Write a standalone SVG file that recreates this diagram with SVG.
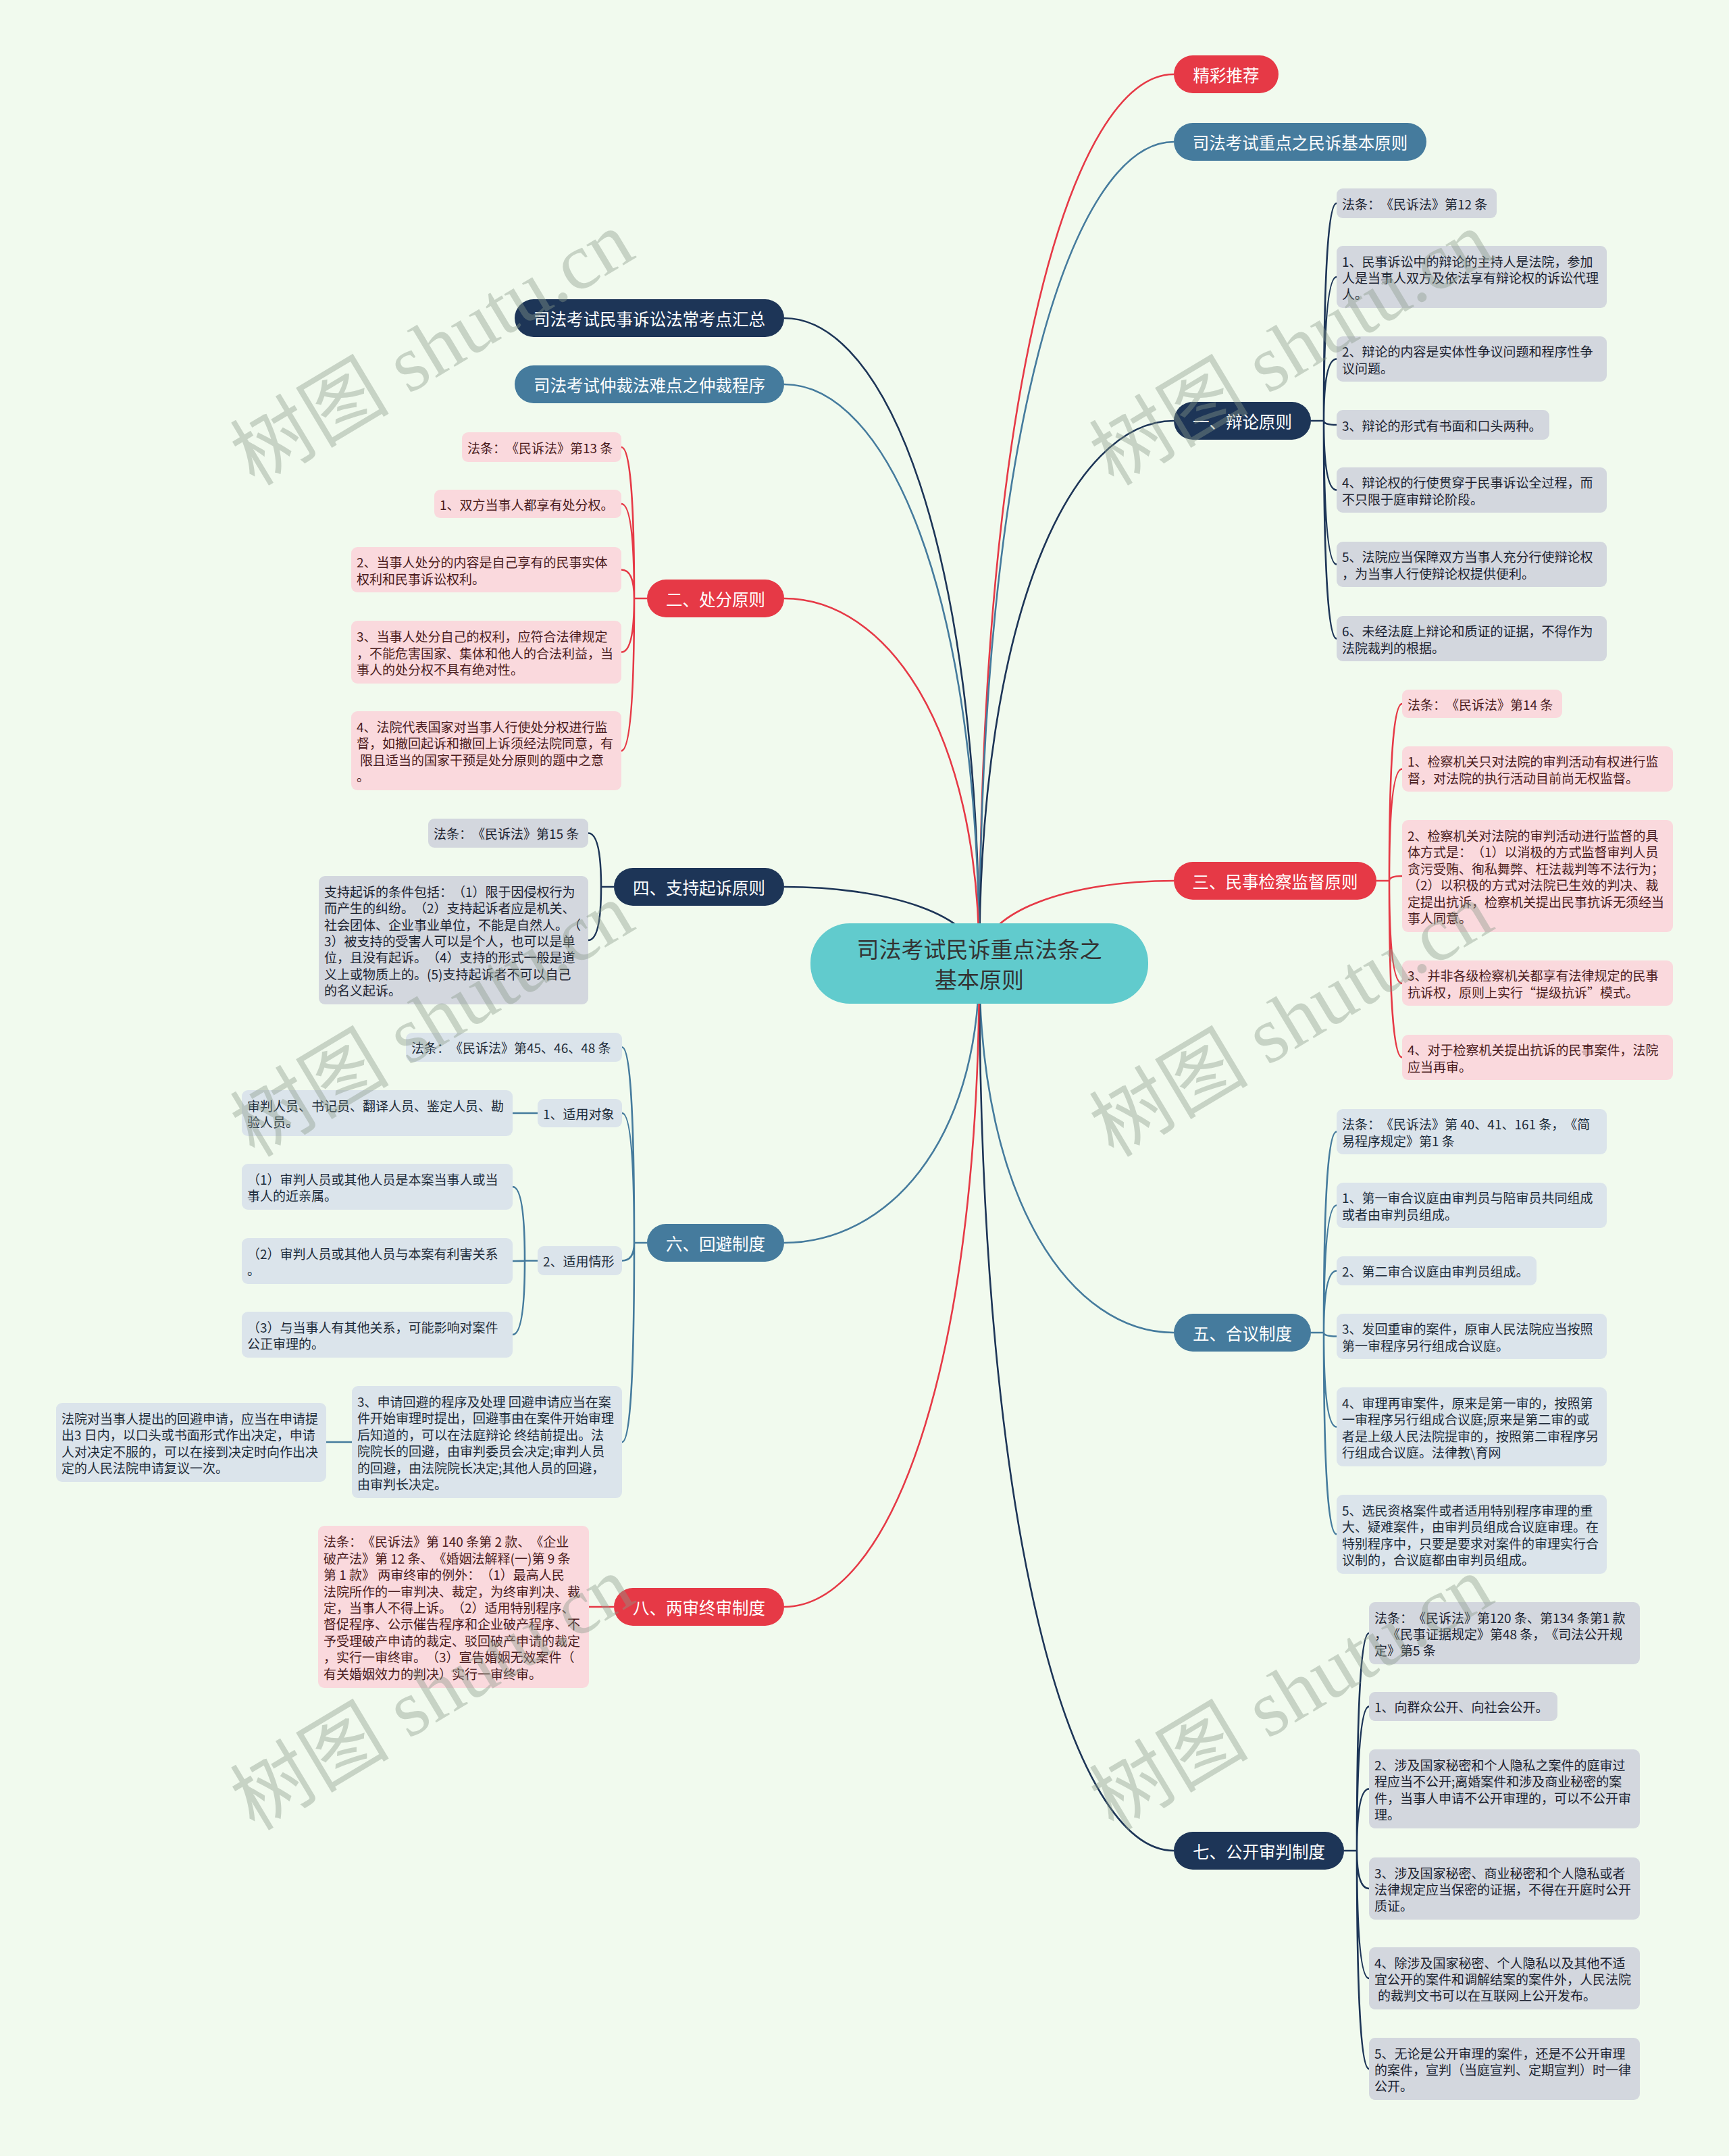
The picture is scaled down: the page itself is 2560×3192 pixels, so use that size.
<svg xmlns="http://www.w3.org/2000/svg" width="2560" height="3192" viewBox="0 0 2560 3192">
<style>
text{font-family:"Noto Sans CJK SC","Noto Sans",sans-serif;dominant-baseline:central;text-spacing-trim:space-all}
.c{fill:none;stroke-width:2.6}
.cr{stroke:#e63946}.cn{stroke:#1d3557}.cb{stroke:#457b9d}
.r{fill:#e63946}.n{fill:#1d3557}.b{fill:#457b9d}
.lp{fill:#fad9dd}.lg{fill:#d3d7de}.lb{fill:#dbe4eb}
.t1{font-size:24.5px;fill:#ffffff;text-anchor:middle}
.tl{font-size:19px}
.tp{fill:#4a1c20}.tg{fill:#1c2331}.tb{fill:#1e2c3a}
.wm{font-family:"Liberation Serif","Noto Sans CJK SC",serif;font-size:118px;fill:#8a9a8a;opacity:0.4;text-anchor:middle;dominant-baseline:auto}
</style>
<rect x="0" y="0" width="2560" height="3192" fill="#f1faee"/>
<g id="connectors">
<path class="c cr" d="M1450 1426.5 C1450 571 1588 110 1738 110"/>
<path class="c cb" d="M1450 1426.5 C1450 636 1588 210 1738 210"/>
<path class="c cn" d="M1450 1426.5 C1450 904 1588 623 1738 623"/>
<path class="c cr" d="M1450 1426.5 C1450 1347 1588 1304 1738 1304"/>
<path class="c cb" d="M1450 1426.5 C1450 1782 1588 1973 1738 1973"/>
<path class="c cn" d="M1450 1426.5 C1450 2280 1588 2740 1738 2740"/>
<path class="c cn" d="M1450 1426.5 C1450 805 1311 471 1161 471"/>
<path class="c cb" d="M1450 1426.5 C1450 869 1311 569 1161 569"/>
<path class="c cr" d="M1450 1426.5 C1450 1075 1311 886 1161 886"/>
<path class="c cn" d="M1450 1426.5 C1450 1353 1311 1313 1161 1313"/>
<path class="c cb" d="M1450 1426.5 C1450 1695 1311 1840 1161 1840"/>
<path class="c cr" d="M1450 1426.5 C1450 2046 1311 2379 1161 2379"/>
<path class="c cn" d="M1941 623 L1960 623 Q1960 301 1979 301 M1960 623 Q1960 410 1979 410 M1960 623 Q1960 531.5 1979 531.5 M1960 623 Q1960 629 1979 629 M1960 623 Q1960 725.5 1979 725.5 M1960 623 Q1960 835.5 1979 835.5 M1960 623 Q1960 945.5 1979 945.5"/>
<path class="c cr" d="M2038 1304 L2057 1304 Q2057 1042 2076 1042 M2057 1304 Q2057 1138.5 2076 1138.5 M2057 1304 Q2057 1297 2076 1297 M2057 1304 Q2057 1456 2076 1456 M2057 1304 Q2057 1565.5 2076 1565.5"/>
<path class="c cb" d="M1941 1973 L1960 1973 Q1960 1675.5 1979 1675.5 M1960 1973 Q1960 1784.5 1979 1784.5 M1960 1973 Q1960 1881.5 1979 1881.5 M1960 1973 Q1960 1978.5 1979 1978.5 M1960 1973 Q1960 2112.5 1979 2112.5 M1960 1973 Q1960 2271.5 1979 2271.5"/>
<path class="c cn" d="M1990 2740 L2009 2740 Q2009 2418 2027 2418 M2009 2740 Q2009 2526.5 2027 2526.5 M2009 2740 Q2009 2648.5 2027 2648.5 M2009 2740 Q2009 2796 2027 2796 M2009 2740 Q2009 2929 2027 2929 M2009 2740 Q2009 3063 2027 3063"/>
<path class="c cr" d="M958 886 L939 886 Q939 662 920 662 M939 886 Q939 746 920 746 M939 886 Q939 843.5 920 843.5 M939 886 Q939 965.5 920 965.5 M939 886 Q939 1111.5 920 1111.5"/>
<path class="c cn" d="M909 1313 L890 1313 Q890 1233.5 871 1233.5 M890 1313 Q890 1392 871 1392"/>
<path class="c cb" d="M958 1840 L939 1840 Q939 1550.5 921 1550.5 M939 1840 Q939 1648 921 1648 M939 1840 Q939 1866.5 921 1866.5 M939 1840 Q939 2135 921 2135"/>
<path class="c cb" d="M796 1648 L759 1648"/>
<path class="c cb" d="M796 1866.5 L777 1866.5 Q777 1757 759 1757 M777 1866.5 Q777 1867 759 1867 M777 1866.5 Q777 1976 759 1976"/>
<path class="c cb" d="M521 2135 L483 2135"/>
<path class="c cr" d="M909 2379 L872 2379"/>
</g>
<g id="root"><rect x="1200" y="1367" width="500" height="119" rx="58" fill="#61cbcd"/><text x="1450" y="1404" font-size="33" fill="#333333" text-anchor="middle">司法考试民诉重点法条之</text><text x="1450" y="1449" font-size="33" fill="#333333" text-anchor="middle">基本原则</text></g>
<g id="n-jctj"><rect class="r" x="1738" y="82" width="155" height="56" rx="28"/><text class="t1" x="1815.5" y="110">精彩推荐</text></g>
<g id="n-zdms"><rect class="b" x="1738" y="182" width="374" height="56" rx="28"/><text class="t1" x="1925" y="210">司法考试重点之民诉基本原则</text></g>
<g id="n-1"><rect class="n" x="1738" y="595" width="203" height="56" rx="28"/><text class="t1" x="1839.5" y="623">一、辩论原则</text></g>
<g id="n-3"><rect class="r" x="1738" y="1276" width="300" height="56" rx="28"/><text class="t1" x="1888" y="1304">三、民事检察监督原则</text></g>
<g id="n-5"><rect class="b" x="1738" y="1945" width="203" height="56" rx="28"/><text class="t1" x="1839.5" y="1973">五、合议制度</text></g>
<g id="n-7"><rect class="n" x="1738" y="2712" width="252" height="56" rx="28"/><text class="t1" x="1864" y="2740">七、公开审判制度</text></g>
<g id="n-hz"><rect class="n" x="762" y="443" width="399" height="56" rx="28"/><text class="t1" x="961.5" y="471">司法考试民事诉讼法常考点汇总</text></g>
<g id="n-zc"><rect class="b" x="762" y="541" width="399" height="56" rx="28"/><text class="t1" x="961.5" y="569">司法考试仲裁法难点之仲裁程序</text></g>
<g id="n-2"><rect class="r" x="958" y="858" width="203" height="56" rx="28"/><text class="t1" x="1059.5" y="886">二、处分原则</text></g>
<g id="n-4"><rect class="n" x="909" y="1285" width="252" height="56" rx="28"/><text class="t1" x="1035" y="1313">四、支持起诉原则</text></g>
<g id="n-6"><rect class="b" x="958" y="1812" width="203" height="56" rx="28"/><text class="t1" x="1059.5" y="1840">六、回避制度</text></g>
<g id="n-8"><rect class="r" x="909" y="2351" width="252" height="56" rx="28"/><text class="t1" x="1035" y="2379">八、两审终审制度</text></g>
<g id="l1-0"><rect class="lg" x="1979" y="279" width="237" height="44" rx="9"/><text class="tl tg" x="1987" y="301">法条：《民诉法》第12 条</text></g>
<g id="l1-1"><rect class="lg" x="1979" y="364" width="400" height="92" rx="9"/><text class="tl tg" x="1987" y="385.6"><tspan x="1987">1、民事诉讼中的辩论的主持人是法院，参加</tspan><tspan x="1987" dy="24.4">人是当事人双方及依法享有辩论权的诉讼代理</tspan><tspan x="1987" dy="24.4">人。</tspan></text></g>
<g id="l1-2"><rect class="lg" x="1979" y="498" width="400" height="67" rx="9"/><text class="tl tg" x="1987" y="519.3"><tspan x="1987">2、辩论的内容是实体性争议问题和程序性争</tspan><tspan x="1987" dy="24.4">议问题。</tspan></text></g>
<g id="l1-3"><rect class="lg" x="1979" y="607" width="315" height="44" rx="9"/><text class="tl tg" x="1987" y="629">3、辩论的形式有书面和口头两种。</text></g>
<g id="l1-4"><rect class="lg" x="1979" y="692" width="400" height="67" rx="9"/><text class="tl tg" x="1987" y="713.3"><tspan x="1987">4、辩论权的行使贯穿于民事诉讼全过程，而</tspan><tspan x="1987" dy="24.4">不只限于庭审辩论阶段。</tspan></text></g>
<g id="l1-5"><rect class="lg" x="1979" y="802" width="400" height="67" rx="9"/><text class="tl tg" x="1987" y="823.3"><tspan x="1987">5、法院应当保障双方当事人充分行使辩论权</tspan><tspan x="1987" dy="24.4">，为当事人行使辩论权提供便利。</tspan></text></g>
<g id="l1-6"><rect class="lg" x="1979" y="912" width="400" height="67" rx="9"/><text class="tl tg" x="1987" y="933.3"><tspan x="1987">6、未经法庭上辩论和质证的证据，不得作为</tspan><tspan x="1987" dy="24.4">法院裁判的根据。</tspan></text></g>
<g id="l3-0"><rect class="lp" x="2076" y="1021" width="237" height="42" rx="9"/><text class="tl tp" x="2084" y="1042">法条：《民诉法》第14 条</text></g>
<g id="l3-1"><rect class="lp" x="2076" y="1105" width="401" height="67" rx="9"/><text class="tl tp" x="2084" y="1126.3"><tspan x="2084">1、检察机关只对法院的审判活动有权进行监</tspan><tspan x="2084" dy="24.4">督，对法院的执行活动目前尚无权监督。</tspan></text></g>
<g id="l3-2"><rect class="lp" x="2076" y="1214" width="401" height="166" rx="9"/><text class="tl tp" x="2084" y="1236"><tspan x="2084">2、检察机关对法院的审判活动进行监督的具</tspan><tspan x="2084" dy="24.4">体方式是：（1）以消极的方式监督审判人员</tspan><tspan x="2084" dy="24.4">贪污受贿、徇私舞弊、枉法裁判等不法行为；</tspan><tspan x="2084" dy="24.4">（2）以积极的方式对法院已生效的判决、裁</tspan><tspan x="2084" dy="24.4">定提出抗诉，检察机关提出民事抗诉无须经当</tspan><tspan x="2084" dy="24.4">事人同意。</tspan></text></g>
<g id="l3-3"><rect class="lp" x="2076" y="1422" width="401" height="67" rx="9"/><text class="tl tp" x="2084" y="1443.3"><tspan x="2084">3、并非各级检察机关都享有法律规定的民事</tspan><tspan x="2084" dy="24.4">抗诉权，原则上实行“提级抗诉”模式。</tspan></text></g>
<g id="l3-4"><rect class="lp" x="2076" y="1532" width="401" height="67" rx="9"/><text class="tl tp" x="2084" y="1553.3"><tspan x="2084">4、对于检察机关提出抗诉的民事案件，法院</tspan><tspan x="2084" dy="24.4">应当再审。</tspan></text></g>
<g id="l5-0"><rect class="lb" x="1979" y="1642" width="400" height="67" rx="9"/><text class="tl tb" x="1987" y="1663.3"><tspan x="1987">法条：《民诉法》第 40、41、161 条，《简</tspan><tspan x="1987" dy="24.4">易程序规定》第1 条</tspan></text></g>
<g id="l5-1"><rect class="lb" x="1979" y="1751" width="400" height="67" rx="9"/><text class="tl tb" x="1987" y="1772.3"><tspan x="1987">1、第一审合议庭由审判员与陪审员共同组成</tspan><tspan x="1987" dy="24.4">或者由审判员组成。</tspan></text></g>
<g id="l5-2"><rect class="lb" x="1979" y="1860" width="296" height="43" rx="9"/><text class="tl tb" x="1987" y="1881.5">2、第二审合议庭由审判员组成。</text></g>
<g id="l5-3"><rect class="lb" x="1979" y="1945" width="400" height="67" rx="9"/><text class="tl tb" x="1987" y="1966.3"><tspan x="1987">3、发回重审的案件，原审人民法院应当按照</tspan><tspan x="1987" dy="24.4">第一审程序另行组成合议庭。</tspan></text></g>
<g id="l5-4"><rect class="lb" x="1979" y="2054" width="400" height="117" rx="9"/><text class="tl tb" x="1987" y="2075.9"><tspan x="1987">4、审理再审案件，原来是第一审的，按照第</tspan><tspan x="1987" dy="24.4">一审程序另行组成合议庭;原来是第二审的或</tspan><tspan x="1987" dy="24.4">者是上级人民法院提审的，按照第二审程序另</tspan><tspan x="1987" dy="24.4">行组成合议庭。法律教\育网</tspan></text></g>
<g id="l5-5"><rect class="lb" x="1979" y="2213" width="400" height="117" rx="9"/><text class="tl tb" x="1987" y="2234.9"><tspan x="1987">5、选民资格案件或者适用特别程序审理的重</tspan><tspan x="1987" dy="24.4">大、疑难案件，由审判员组成合议庭审理。在</tspan><tspan x="1987" dy="24.4">特别程序中，只要是要求对案件的审理实行合</tspan><tspan x="1987" dy="24.4">议制的，合议庭都由审判员组成。</tspan></text></g>
<g id="l7-0"><rect class="lg" x="2027" y="2372" width="401" height="92" rx="9"/><text class="tl tg" x="2035" y="2393.6"><tspan x="2035">法条：《民诉法》第120 条、第134 条第1 款</tspan><tspan x="2035" dy="24.4">，《民事证据规定》第48 条，《司法公开规</tspan><tspan x="2035" dy="24.4">定》第5 条</tspan></text></g>
<g id="l7-1"><rect class="lg" x="2027" y="2505" width="279" height="43" rx="9"/><text class="tl tg" x="2035" y="2526.5">1、向群众公开、向社会公开。</text></g>
<g id="l7-2"><rect class="lg" x="2027" y="2590" width="401" height="117" rx="9"/><text class="tl tg" x="2035" y="2611.9"><tspan x="2035">2、涉及国家秘密和个人隐私之案件的庭审过</tspan><tspan x="2035" dy="24.4">程应当不公开;离婚案件和涉及商业秘密的案</tspan><tspan x="2035" dy="24.4">件，当事人申请不公开审理的，可以不公开审</tspan><tspan x="2035" dy="24.4">理。</tspan></text></g>
<g id="l7-3"><rect class="lg" x="2027" y="2750" width="401" height="92" rx="9"/><text class="tl tg" x="2035" y="2771.6"><tspan x="2035">3、涉及国家秘密、商业秘密和个人隐私或者</tspan><tspan x="2035" dy="24.4">法律规定应当保密的证据，不得在开庭时公开</tspan><tspan x="2035" dy="24.4">质证。</tspan></text></g>
<g id="l7-4"><rect class="lg" x="2027" y="2883" width="401" height="92" rx="9"/><text class="tl tg" x="2035" y="2904.6"><tspan x="2035">4、除涉及国家秘密、个人隐私以及其他不适</tspan><tspan x="2035" dy="24.4">宜公开的案件和调解结案的案件外，人民法院</tspan><tspan x="2040" dy="24.4">的裁判文书可以在互联网上公开发布。</tspan></text></g>
<g id="l7-5"><rect class="lg" x="2027" y="3017" width="401" height="92" rx="9"/><text class="tl tg" x="2035" y="3038.6"><tspan x="2035">5、无论是公开审理的案件，还是不公开审理</tspan><tspan x="2035" dy="24.4">的案件，宣判（当庭宣判、定期宣判）时一律</tspan><tspan x="2035" dy="24.4">公开。</tspan></text></g>
<g id="l2-0"><rect class="lp" x="684" y="640" width="236" height="44" rx="9"/><text class="tl tp" x="692" y="662">法条：《民诉法》第13 条</text></g>
<g id="l2-1"><rect class="lp" x="643" y="725" width="277" height="42" rx="9"/><text class="tl tp" x="651" y="746">1、双方当事人都享有处分权。</text></g>
<g id="l2-2"><rect class="lp" x="520" y="810" width="400" height="67" rx="9"/><text class="tl tp" x="528" y="831.3"><tspan x="528">2、当事人处分的内容是自己享有的民事实体</tspan><tspan x="528" dy="24.4">权利和民事诉讼权利。</tspan></text></g>
<g id="l2-3"><rect class="lp" x="520" y="919" width="400" height="93" rx="9"/><text class="tl tp" x="528" y="941.1"><tspan x="528">3、当事人处分自己的权利，应符合法律规定</tspan><tspan x="528" dy="24.4">，不能危害国家、集体和他人的合法利益，当</tspan><tspan x="528" dy="24.4">事人的处分权不具有绝对性。</tspan></text></g>
<g id="l2-4"><rect class="lp" x="520" y="1053" width="400" height="117" rx="9"/><text class="tl tp" x="528" y="1074.9"><tspan x="528">4、法院代表国家对当事人行使处分权进行监</tspan><tspan x="528" dy="24.4">督，如撤回起诉和撤回上诉须经法院同意，有</tspan><tspan x="533" dy="24.4">限且适当的国家干预是处分原则的题中之意</tspan><tspan x="528" dy="24.4">。</tspan></text></g>
<g id="l4-0"><rect class="lg" x="634" y="1212" width="237" height="43" rx="9"/><text class="tl tg" x="642" y="1233.5">法条：《民诉法》第15 条</text></g>
<g id="l4-1"><rect class="lg" x="472" y="1297" width="399" height="190" rx="9"/><text class="tl tg" x="480" y="1318.8"><tspan x="480">支持起诉的条件包括：（1）限于因侵权行为</tspan><tspan x="480" dy="24.4">而产生的纠纷。（2）支持起诉者应是机关、</tspan><tspan x="480" dy="24.4">社会团体、企业事业单位，不能是自然人。（</tspan><tspan x="480" dy="24.4">3）被支持的受害人可以是个人，也可以是单</tspan><tspan x="480" dy="24.4">位，且没有起诉。（4）支持的形式一般是道</tspan><tspan x="480" dy="24.4">义上或物质上的。(5)支持起诉者不可以自己</tspan><tspan x="480" dy="24.4">的名义起诉。</tspan></text></g>
<g id="l6-0"><rect class="lb" x="601" y="1529" width="320" height="43" rx="9"/><text class="tl tb" x="609" y="1550.5">法条：《民诉法》第45、46、48 条</text></g>
<g id="l6-1"><rect class="lb" x="796" y="1627" width="125" height="42" rx="9"/><text class="tl tb" x="804" y="1648">1、适用对象</text></g>
<g id="l6-1a"><rect class="lb" x="358" y="1614" width="401" height="68" rx="9"/><text class="tl tb" x="366" y="1635.8"><tspan x="366">审判人员、书记员、翻译人员、鉴定人员、勘</tspan><tspan x="366" dy="24.4">验人员。</tspan></text></g>
<g id="l6-2"><rect class="lb" x="796" y="1845" width="125" height="43" rx="9"/><text class="tl tb" x="804" y="1866.5">2、适用情形</text></g>
<g id="l6-2a"><rect class="lb" x="358" y="1723" width="401" height="68" rx="9"/><text class="tl tb" x="366" y="1744.8"><tspan x="366">（1）审判人员或其他人员是本案当事人或当</tspan><tspan x="366" dy="24.4">事人的近亲属。</tspan></text></g>
<g id="l6-2b"><rect class="lb" x="358" y="1833" width="401" height="68" rx="9"/><text class="tl tb" x="366" y="1854.8"><tspan x="366">（2）审判人员或其他人员与本案有利害关系</tspan><tspan x="366" dy="24.4">。</tspan></text></g>
<g id="l6-2c"><rect class="lb" x="358" y="1942" width="401" height="68" rx="9"/><text class="tl tb" x="366" y="1963.8"><tspan x="366">（3）与当事人有其他关系，可能影响对案件</tspan><tspan x="366" dy="24.4">公正审理的。</tspan></text></g>
<g id="l6-3"><rect class="lb" x="521" y="2052" width="400" height="166" rx="9"/><text class="tl tb" x="529" y="2074"><tspan x="529">3、申请回避的程序及处理 回避申请应当在案</tspan><tspan x="529" dy="24.4">件开始审理时提出，回避事由在案件开始审理</tspan><tspan x="529" dy="24.4">后知道的，可以在法庭辩论 终结前提出。法</tspan><tspan x="529" dy="24.4">院院长的回避，由审判委员会决定;审判人员</tspan><tspan x="529" dy="24.4">的回避，由法院院长决定;其他人员的回避，</tspan><tspan x="529" dy="24.4">由审判长决定。</tspan></text></g>
<g id="l6-3a"><rect class="lb" x="83" y="2077" width="400" height="117" rx="9"/><text class="tl tb" x="91" y="2098.9"><tspan x="91">法院对当事人提出的回避申请，应当在申请提</tspan><tspan x="91" dy="24.4">出3 日内，以口头或书面形式作出决定，申请</tspan><tspan x="91" dy="24.4">人对决定不服的，可以在接到决定时向作出决</tspan><tspan x="91" dy="24.4">定的人民法院申请复议一次。</tspan></text></g>
<g id="l8-0"><rect class="lp" x="471" y="2259" width="401" height="240" rx="9"/><text class="tl tp" x="479" y="2281.4"><tspan x="479">法条：《民诉法》第 140 条第 2 款、《企业</tspan><tspan x="479" dy="24.4">破产法》第 12 条、《婚姻法解释(一)第 9 条</tspan><tspan x="479" dy="24.4">第 1 款》 两审终审的例外：（1）最高人民</tspan><tspan x="479" dy="24.4">法院所作的一审判决、裁定，为终审判决、裁</tspan><tspan x="479" dy="24.4">定，当事人不得上诉。（2）适用特别程序、</tspan><tspan x="479" dy="24.4">督促程序、公示催告程序和企业破产程序、不</tspan><tspan x="479" dy="24.4">予受理破产申请的裁定、驳回破产申请的裁定</tspan><tspan x="479" dy="24.4">，实行一审终审。（3）宣告婚姻无效案件（</tspan><tspan x="479" dy="24.4">有关婚姻效力的判决）实行一审终审。</tspan></text></g>
<g id="watermarks">
<text class="wm" transform="translate(640 516) rotate(-31)" x="0" y="40">树图 shutu.cn</text>
<text class="wm" transform="translate(1912 516) rotate(-31)" x="0" y="40">树图 shutu.cn</text>
<text class="wm" transform="translate(640 1510) rotate(-31)" x="0" y="40">树图 shutu.cn</text>
<text class="wm" transform="translate(1912 1510) rotate(-31)" x="0" y="40">树图 shutu.cn</text>
<text class="wm" transform="translate(640 2507) rotate(-31)" x="0" y="40">树图 shutu.cn</text>
<text class="wm" transform="translate(1912 2507) rotate(-31)" x="0" y="40">树图 shutu.cn</text>
</g>
</svg>
